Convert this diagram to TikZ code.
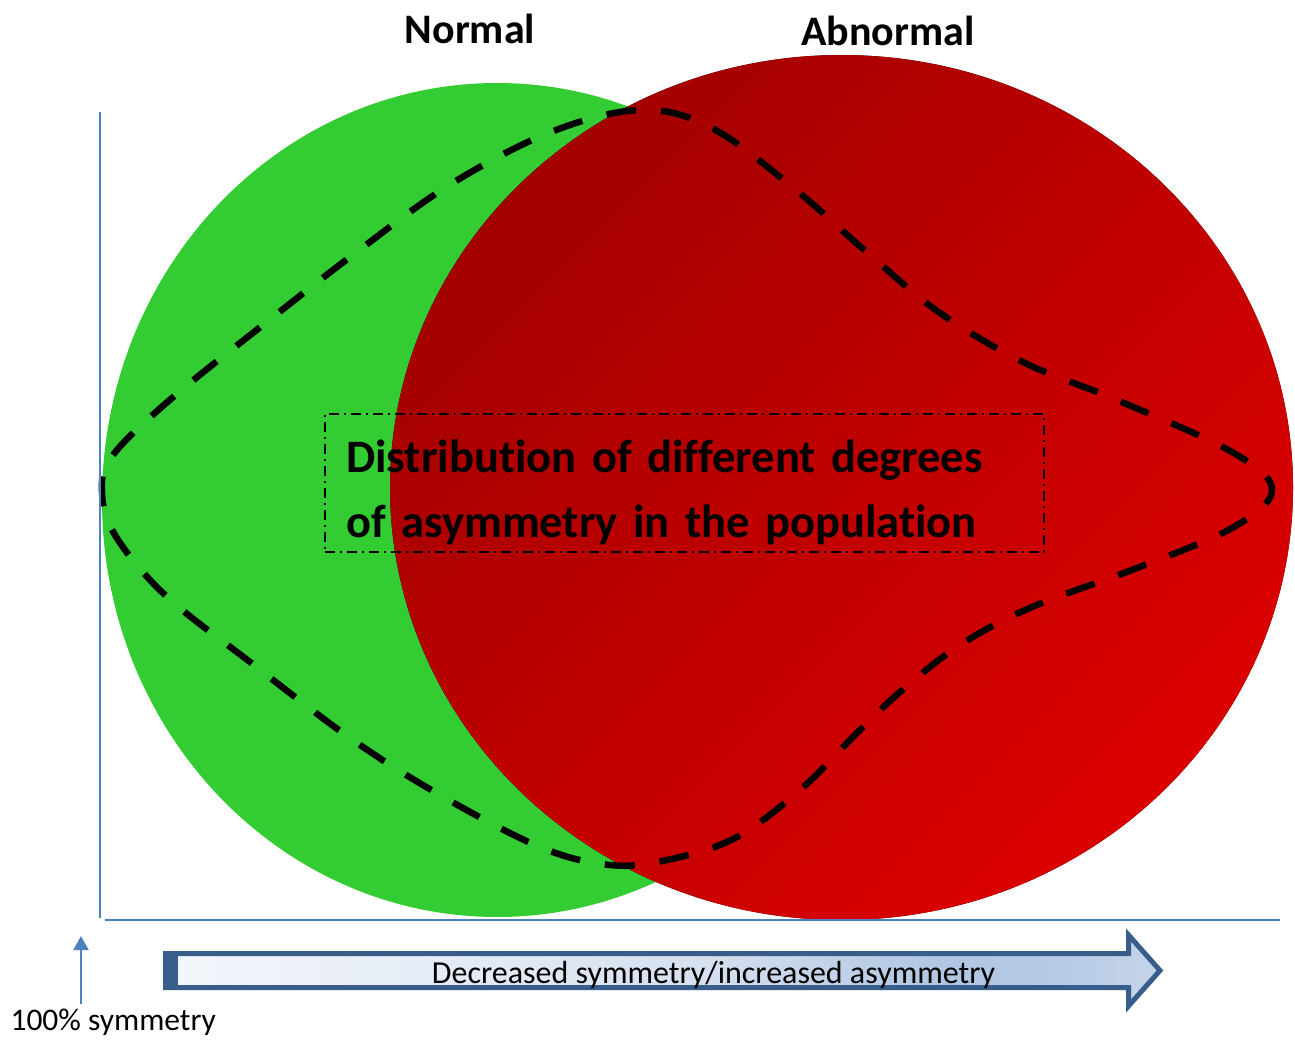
\documentclass[tikz,border=0pt]{standalone}
\usepackage{fontspec}
\setmainfont{Carlito}[Ligatures=NoCommon]
\usetikzlibrary{arrows.meta}
\definecolor{normalgreen}{RGB}{51,204,51}
\definecolor{abdark}{RGB}{163,0,0}
\definecolor{ablight}{RGB}{220,0,0}
\definecolor{axisblue}{RGB}{79,129,189}
\definecolor{arrowblue}{RGB}{56,93,138}
\pgfdeclarehorizontalshading{barshade}{100bp}{rgb(0bp)=(0.953,0.965,0.984); rgb(25bp)=(0.953,0.965,0.984); rgb(40bp)=(0.894,0.922,0.961); rgb(52bp)=(0.839,0.878,0.937); rgb(64bp)=(0.690,0.776,0.886); rgb(69bp)=(0.706,0.788,0.894); rgb(75bp)=(0.773,0.831,0.918); rgb(100bp)=(0.773,0.831,0.918)}
\tikzset{title/.style={font=\fontsize{42}{50}\selectfont\bfseries,anchor=base},axis/.style={axisblue,line width=2pt},popcurve/.style={line width=6.5pt,dash pattern=on 30pt off 25pt},distframe/.style={draw,line width=2pt,dash pattern=on 10pt off 5pt on 2pt off 5pt,minimum width=719pt,minimum height=138pt,anchor=north west,inner sep=0pt},bararrow/.style={draw=arrowblue,line width=5pt,line join=miter,shading=barshade},smalltext/.style={font=\fontsize{31.5}{38}\selectfont,anchor=base}}

\begin{document}
\begin{tikzpicture}[x=1pt,y=-1pt]
\useasboundingbox (0,0) rectangle (1295,1039);

% the two groups
\fill[normalgreen] (497,500) ellipse [x radius=395, y radius=417];
\fill[top color=abdark,bottom color=ablight,shading angle=45] (841.5,487.5) ellipse [x radius=451.5, y radius=432.5];

\node[title] (normal) at (470,43) {Normal};
\node[title] (abnormal) at (888,45) {Abnormal};

% population
\draw[popcurve] plot[smooth cycle,tension=0.6] coordinates {(102,492) (113,455) (172,398) (268,321) (358,251) (451,184) (551,132) (640,110) (710,127) (790,185) (870,255) (940,313) (1025,363) (1117,400) (1232,452) (1272,490) (1232,528) (1137,568) (1032,607) (960,645) (900,692) (855,735) (800,790) (735,838) (667,860) (610,865) (540,847) (440,795) (350,738) (250,662) (165,595) (115,535)};

\node[distframe] (distbox) at (324,413) {};
\node[anchor=base west,text width=690pt,align=left,inner sep=0pt,font=\fontsize{46.5}{65}\selectfont\bfseries] (distrib) at (346,472) {Distribution of different degrees\\of asymmetry in the population};

% axes
\coordinate (ytop) at (100,112);
\coordinate (ybot) at (100,918);
\coordinate (xleft) at (105,920);
\coordinate (xright) at (1280,920);
\draw[axis] (ytop) -- (ybot);
\draw[axis] (xleft) -- (xright);

\coordinate (s0) at (81,1004);
\coordinate (s1) at (81,936);
\draw[axis,-{Triangle[width=15pt,length=14pt]}] (s0) -- (s1);
\node[smalltext,anchor=base west] (full) at (7,1030) {100\% symmetry};

% direction arrow
\draw[bararrow] (165.5,953.5) -- (1128.5,953.5) -- (1128.5,935) -- (1160,970.5) -- (1128.5,1006) -- (1128.5,987.5) -- (165.5,987.5) -- cycle;
\fill[arrowblue] (163,951) rectangle (178,990);
\node[smalltext,font=\fontsize{32}{38}\selectfont] (decr) at (713.5,983) {Decreased symmetry/increased asymmetry};
\end{tikzpicture}
\end{document}
